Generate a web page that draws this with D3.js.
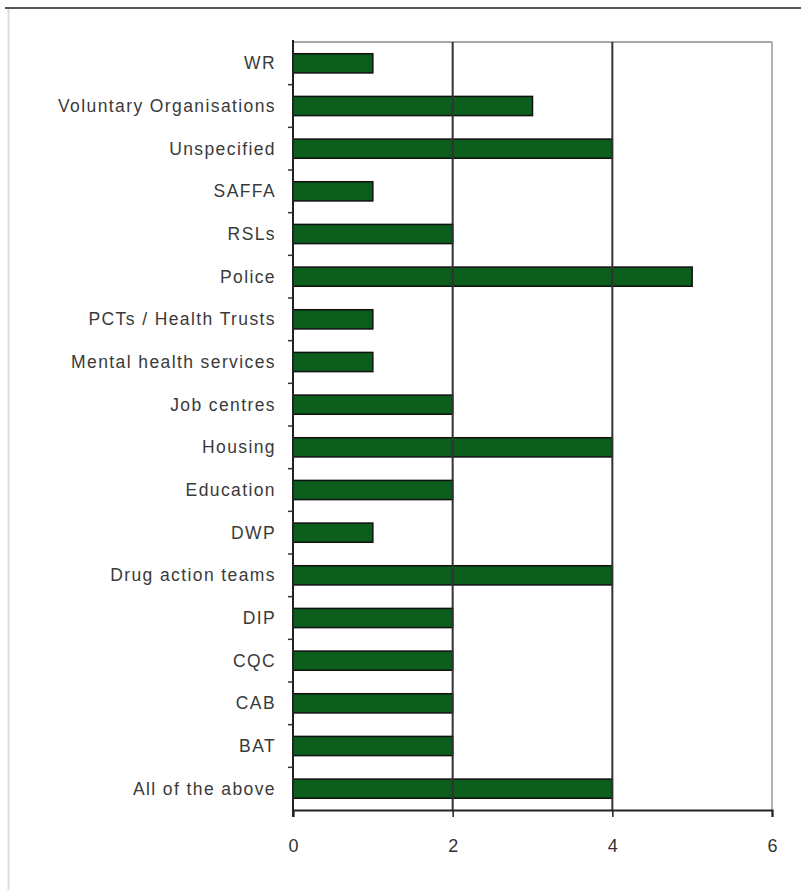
<!DOCTYPE html>
<html><head><meta charset="utf-8">
<script src="https://cdn.jsdelivr.net/npm/d3@7"></script>
<style>body{margin:0;background:#fff}</style>
</head><body>
<script>
const categories = ["WR","Voluntary Organisations","Unspecified","SAFFA","RSLs","Police","PCTs / Health Trusts","Mental health services","Job centres","Housing","Education","DWP","Drug action teams","DIP","CQC","CAB","BAT","All of the above"];
const values = [1,3,4,1,2,5,1,1,2,4,2,1,4,2,2,2,2,4];
const xTicks = [0,2,4,6];

const W = 801, H = 890;
const svg = d3.select("body").append("svg").attr("width", W).attr("height", H);
const L = 293, R = 772, T = 42, B = 810;

// outer frame
svg.append("line").attr("x1",5).attr("x2",W).attr("y1",8).attr("y2",8).attr("stroke","#555").attr("stroke-width",2);
svg.append("line").attr("x1",8.5).attr("x2",8.5).attr("y1",9).attr("y2",H).attr("stroke","#ddd").attr("stroke-width",2);

const x = d3.scaleLinear().domain([0,6]).range([L,R]);
const y = d3.scaleBand().domain(categories).range([T,B]).paddingInner(0.55).paddingOuter(0.275);

// plot top border
svg.append("line").attr("x1",L).attr("x2",R).attr("y1",T).attr("y2",T).attr("stroke","#888").attr("stroke-width",1.5);

// bars
svg.append("g").selectAll("rect").data(categories).join("rect")
  .attr("x", x(0)).attr("y", d => y(d))
  .attr("width", (d,i) => x(values[i]) - x(0))
  .attr("height", y.bandwidth())
  .attr("fill","#0b5e1c").attr("stroke","#111").attr("stroke-width",1.5);

// gridlines
svg.append("g").selectAll("line").data(xTicks.filter(t => t > 0)).join("line")
  .attr("x1", d => x(d)).attr("x2", d => x(d)).attr("y1", T).attr("y2", B)
  .attr("stroke", d => d === 6 ? "#999" : "#333").attr("stroke-width", d => d === 6 ? 1.5 : 2);

// y axis: line + ticks between categories
const step = y.step();
svg.append("line").attr("x1",L).attr("x2",L).attr("y1",T-2).attr("y2",B+7).attr("stroke","#222").attr("stroke-width",2);
svg.append("g").selectAll("line").data(d3.range(1, categories.length)).join("line")
  .attr("x1", L-5).attr("x2", L).attr("y1", d => T + d*step).attr("y2", d => T + d*step)
  .attr("stroke","#333").attr("stroke-width",1.5);
svg.append("g").selectAll("text").data(categories).join("text")
  .attr("x", 276).attr("y", d => y(d) + y.bandwidth()/2)
  .attr("text-anchor","end").attr("dominant-baseline","central")
  .attr("font-family","Liberation Sans, Arial, sans-serif").attr("font-size",17.5).attr("letter-spacing","1.4px")
  .attr("fill","#3a3a3a").text(d => d);

// x axis
const xAxis = d3.axisBottom(x).tickValues(xTicks).tickSize(7).tickFormat(d3.format("d"));
const gx = svg.append("g").attr("transform",`translate(0,${B})`).call(xAxis);
gx.select(".domain").attr("stroke","#222").attr("stroke-width",2);
gx.selectAll(".tick line").attr("stroke","#222").attr("stroke-width",1.5);
gx.selectAll(".tick text").attr("font-family","Liberation Sans, Arial, sans-serif").attr("font-size",18).attr("fill","#333").attr("dy","1.8em");
</script>
</body></html>
